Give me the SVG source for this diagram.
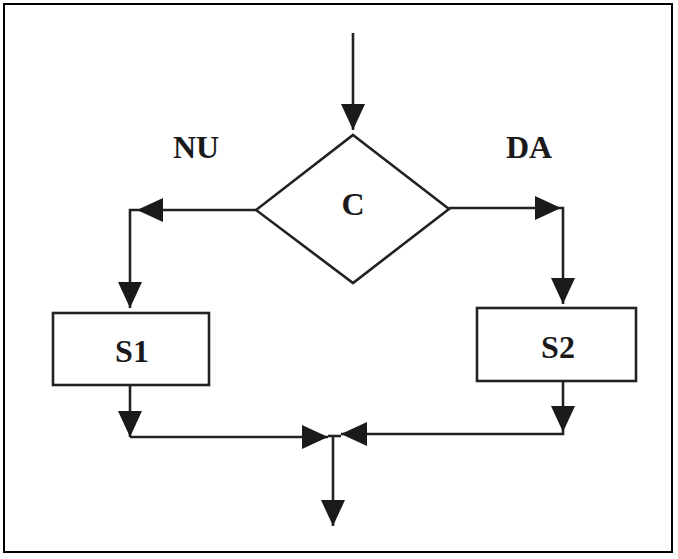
<svg xmlns="http://www.w3.org/2000/svg" width="678" height="559" viewBox="0 0 678 559">
<style>
.ln{fill:none;stroke:#222;stroke-width:2.6;marker-end:url(#ah)}
.seg{fill:none;stroke:#222;stroke-width:2.6}
.shape{fill:#fff;stroke:#222;stroke-width:2.6}
.lbl{font-family:"Liberation Serif","Times New Roman",serif;font-weight:bold;font-size:32px;fill:#1a1a1a;text-anchor:middle}
</style>
<defs>
<marker id="ah" markerUnits="userSpaceOnUse" markerWidth="26" markerHeight="24" viewBox="0 0 26 24" refX="26" refY="12" orient="auto">
<path d="M0,0 L26,12 L0,24 Z" fill="#1a1a1a"/>
</marker>
</defs>
<rect x="4" y="4" width="668" height="548" fill="#fff" stroke="#000" stroke-width="2"/>
<g id="connectors">
<path class="ln" d="M353,33 V130"/>
<path class="ln" d="M256,210 H137"/>
<path class="ln" d="M137,210 H130 V308"/>
<path class="ln" d="M449,208 H561"/>
<path class="ln" d="M561,208 H563 V304"/>
<path class="ln" d="M130,385 V437"/>
<path class="ln" d="M130,437 H328"/>
<path class="ln" d="M563,381 V432"/>
<path class="ln" d="M563,432 V434 H341"/>
<path class="seg" d="M328,436 H341"/>
<path class="ln" d="M333,436 V526"/>
</g>
<g id="decision">
<polygon class="shape" points="353,135 449,209 353,283 256,210"/>
<text class="lbl" x="353" y="215">C</text>
</g>
<g id="s1">
<rect class="shape" x="53" y="313" width="156" height="72"/>
<text class="lbl" x="132" y="362">S1</text>
</g>
<g id="s2">
<rect class="shape" x="477" y="308" width="159" height="73"/>
<text class="lbl" x="558" y="358">S2</text>
</g>
<g id="labels">
<text class="lbl" x="196" y="158">NU</text>
<text class="lbl" x="529" y="158">DA</text>
</g>
</svg>
